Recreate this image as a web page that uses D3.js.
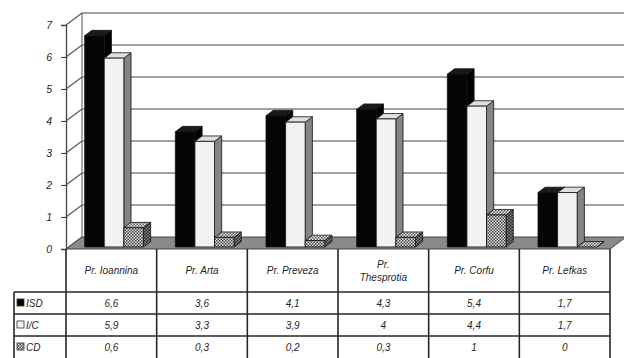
<!DOCTYPE html>
<html>
<head>
<meta charset="utf-8">
<script src="https://cdn.jsdelivr.net/npm/d3@7"></script>
<style>
  html, body { margin: 0; padding: 0; background: #fff; }
  svg { display: block; font-family: "Liberation Sans", Arial, sans-serif; }
  .lbl { font-style: italic; font-size: 10px; fill: #262626; }
</style>
</head>
<body>
<svg id="chart" width="624" height="358"></svg>
<script>
// Prefecture data (three indicators per prefecture)
const categories = ["Pr. Ioannina", "Pr. Arta", "Pr. Preveza", "Pr. Thesprotia", "Pr. Corfu", "Pr. Lefkas"];
const seriesNames = ["ISD", "I/C", "CD"];
const isdValues = [6.6, 3.6, 4.1, 4.3, 5.4, 1.7];
const icValues = [5.9, 3.3, 3.9, 4, 4.4, 1.7];
const cdValues = [0.6, 0.3, 0.2, 0.3, 1, 0];
const yTicks = [0, 1, 2, 3, 4, 5, 6, 7];

const series = [isdValues, icValues, cdValues];

const svg = d3.select("#chart");
const defs = svg.append("defs");

// checkered fill for the CD series
function checker(id, dark, light) {
  const p = defs.append("pattern").attr("id", id).attr("patternUnits", "userSpaceOnUse")
    .attr("width", 3).attr("height", 3);
  p.append("rect").attr("width", 3).attr("height", 3).attr("fill", light);
  p.append("rect").attr("x", 0).attr("y", 0).attr("width", 1.5).attr("height", 1.5).attr("fill", dark);
  p.append("rect").attr("x", 1.5).attr("y", 1.5).attr("width", 1.5).attr("height", 1.5).attr("fill", dark);
}
checker("chkFront", "#444", "#e0e0e0");
checker("chkTop", "#555", "#f0f0f0");
checker("chkSide", "#222", "#888");

// 3D projection: full depth shifts right and up
const DX = 16, DY = -12;
const x = d3.scaleBand().domain(categories).range([66, 610]);
const y = d3.scaleLinear().domain([0, 7]).range([249, 25]);
const bw = x.bandwidth();
const barW = bw * 0.216;
const inner = d3.scaleBand().domain(seriesNames).range([(bw - 3 * barW) / 2, (bw + 3 * barW) / 2]);
const t0 = 0.17, t1 = 0.62;

const P = (px, v, t) => [px + DX * t, y(v) + DY * t];
const poly = pts => pts.map(p => p.join(",")).join(" ");

const x0 = x.range()[0], x1 = x.range()[1];

// back wall with gridlines
svg.append("polygon")
  .attr("points", poly([P(x0, 0, 1), P(x0, 7, 1), [644, y(7) + DY], [644, y(0) + DY]]))
  .attr("fill", "#fff");
svg.append("g").selectAll("line").data(yTicks.filter(d => d > 0)).join("line")
  .attr("x1", x0 + DX).attr("x2", 630)
  .attr("y1", d => y(d) + DY).attr("y2", d => y(d) + DY)
  .attr("stroke", "#a0a0a0").attr("stroke-width", 1.8);

// left side wall: vertical edges and diagonal gridlines
svg.append("line").attr("x1", x0 + DX).attr("x2", x0 + DX)
  .attr("y1", y(0) + DY).attr("y2", y(7) + DY).attr("stroke", "#777").attr("stroke-width", 1.3);
svg.append("g").selectAll("line").data(yTicks).join("line")
  .attr("x1", x0).attr("y1", d => y(d))
  .attr("x2", x0 + DX).attr("y2", d => y(d) + DY)
  .attr("stroke", "#555").attr("stroke-width", 1.1);

// floor
svg.append("polygon")
  .attr("points", poly([P(x0, 0, 0), P(x1, 0, 0), P(x1, 0, 1), P(x0, 0, 1)]))
  .attr("fill", "#8a8a8a").attr("stroke", "#444").attr("stroke-width", 1);

// front value axis
const axis = d3.axisLeft(y).tickValues(yTicks).tickSize(5).tickPadding(9).tickFormat(d3.format("d"));
const ag = svg.append("g").attr("transform", `translate(${x0},0)`).call(axis);
ag.select(".domain").attr("stroke", "#444").attr("stroke-width", 1.3);
ag.selectAll(".tick line").attr("stroke", "#444").attr("stroke-width", 1.1);
ag.selectAll(".tick text").attr("class", "lbl").attr("font-size", null).attr("font-family", null)
  .style("font-size", "10.5px");

// bar styles per series: front, top, side
const styles = [
  { front: "#050505", top: "#1a1a1a", side: "#000" },
  { front: "#f2f2f2", top: "#e0e0e0", side: "#858585" },
  { front: "url(#chkFront)", top: "url(#chkTop)", side: "url(#chkSide)" }
];

const bars = svg.append("g");
categories.forEach((c, ci) => {
  seriesNames.forEach((s, si) => {
    const v = series[si][ci];
    const left = x(c) + inner(s), right = left + barW;
    const st = styles[si];
    const g = bars.append("g").attr("stroke", "#111").attr("stroke-width", 0.8).attr("stroke-linejoin", "round");
    // right side face
    g.append("polygon").attr("fill", st.side)
      .attr("points", poly([P(right, 0, t0), P(right, 0, t1), P(right, v, t1), P(right, v, t0)]));
    // top face
    g.append("polygon").attr("fill", st.top)
      .attr("points", poly([P(left, v, t0), P(right, v, t0), P(right, v, t1), P(left, v, t1)]));
    // front face
    const f0 = P(left, v, t0), f1 = P(right, 0, t0);
    g.append("rect").attr("fill", st.front)
      .attr("x", f0[0]).attr("y", f0[1]).attr("width", f1[0] - f0[0]).attr("height", Math.max(0, f1[1] - f0[1]));
  });
});

// data table under the floor
const rowTop = 292, rowH = 22, tableLeft = 14;
const tbl = svg.append("g").attr("stroke", "#262626").attr("stroke-width", 1.6);
// vertical column rules
tbl.selectAll("line.col").data(categories.map(c => x(c)).concat([x1])).join("line")
  .attr("x1", d => d).attr("x2", d => d).attr("y1", y(0)).attr("y2", 360);
// row rules
tbl.selectAll("line.row").data(seriesNames.map((s, i) => rowTop + i * rowH)).join("line")
  .attr("x1", tableLeft).attr("x2", x1).attr("y1", d => d).attr("y2", d => d);
tbl.append("line").attr("x1", tableLeft).attr("x2", tableLeft).attr("y1", rowTop).attr("y2", 360);

// column headers
const fmt = v => d3.format("")(v).replace(".", ",");
categories.forEach(c => {
  const cx = x(c) + bw / 2;
  const parts = c === "Pr. Thesprotia" ? ["Pr.", "Thesprotia"] : [c];
  parts.forEach((p, i) => {
    svg.append("text").attr("class", "lbl").attr("x", cx)
      .attr("y", 274 + (i - (parts.length - 1) / 2) * 13)
      .attr("text-anchor", "middle").text(p);
  });
});

// row headers with legend keys and the values
const keyFill = ["#000", "#f2f2f2", "url(#chkFront)"];
seriesNames.forEach((s, si) => {
  const cy = rowTop + si * rowH + rowH / 2;
  svg.append("rect").attr("x", 17).attr("y", cy - 4).attr("width", 7).attr("height", 7)
    .attr("fill", keyFill[si]).attr("stroke", "#333").attr("stroke-width", 0.8);
  svg.append("text").attr("class", "lbl").attr("x", 26).attr("y", cy + 3.5).text(s);
  categories.forEach((c, ci) => {
    svg.append("text").attr("class", "lbl").attr("x", x(c) + bw / 2).attr("y", cy + 3.5)
      .attr("text-anchor", "middle").text(fmt(series[si][ci]));
  });
});
</script>
</body>
</html>
